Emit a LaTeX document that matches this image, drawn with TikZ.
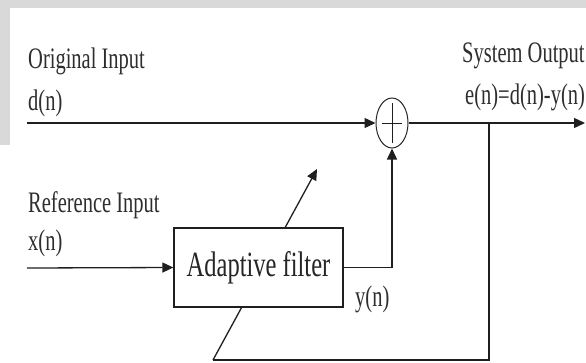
\documentclass[tikz,border=0pt]{standalone}
\usepackage{fontspec}
\setmainfont{Liberation Serif}
\usetikzlibrary{arrows.meta,shapes.geometric}
\newcommand\tall[1]{\scalebox{1}[1.45]{#1}}
\begin{document}
\begin{tikzpicture}[x=1pt,y=-1pt,
  line/.style={draw=black!88, line width=1.3pt},
  arr/.style={line, -{Triangle[length=11pt,width=10pt]}},
  lbl/.style={anchor=base west, inner sep=0pt, text=black!82, font=\fontsize{20.5}{24}\selectfont},
  boxst/.style={draw=black!88, line width=1.3pt, fill=white, minimum width=169pt, minimum height=79pt, inner sep=0pt, text=black!85, font=\fontsize{24.5}{28}\selectfont},
  sumst/.style={draw=black!85, line width=1pt, ellipse, minimum width=32pt, minimum height=50pt, inner sep=0pt}]
\useasboundingbox (0,0) rectangle (586,362);
\fill[white] (0,0) rectangle (586,362);
% watermark band
\fill[black!15] (0,0) rectangle (586,8);
\fill[black!15] (0,0) rectangle (10,145);

% labels
\node[lbl] (t1) at (28,68) {\tall{Original Input}};
\node[lbl] (t2) at (28,110) {\tall{d(n)}};
\node[lbl] (t3) at (28,212) {\tall{Reference Input}};
\node[lbl] (t4) at (28,250) {\tall{x(n)}};
\node[lbl] (t5) at (462,62) {\tall{System Output}};
\node[lbl] (t6) at (465,104) {\tall{e(n)=d(n)-y(n)}};
\node[lbl] (t7) at (355,306) {\tall{y(n)}};

% coordinates
\coordinate (d0) at (27,123);
\coordinate (x0) at (27,268);
\coordinate (out) at (585,123);
\coordinate (tap) at (489,123);
\coordinate (bot) at (489,360);
\coordinate (bl) at (213,360);
\coordinate (dtop) at (317,169);

% adaptation arrow (behind box)
\draw[arr] (bl) -- (dtop);

% nodes
\node[boxst] (af) at (258.5,267.5) {\tall{Adaptive filter}};
\node[sumst] (sum) at (392,123) {};
\draw[line, line width=1pt] ([xshift=-10pt]sum.center) -- ([xshift=10pt]sum.center);
\draw[line, line width=1pt] ([yshift=-20pt]sum.center) -- ([yshift=20pt]sum.center);

% connectors
\draw[arr] (d0) -- (sum.west);
\draw[arr] (x0) -- (af.west);
\draw[arr] (af.east) -| (sum.south);
\draw[arr] (sum.east) -- (out);
\draw[line] (tap) -- (bot) -- (bl);
\end{tikzpicture}
\end{document}
